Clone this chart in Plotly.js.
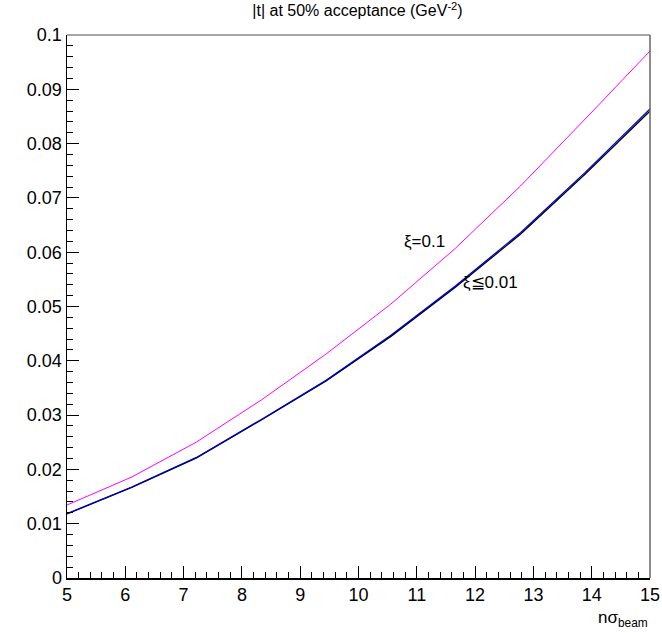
<!DOCTYPE html>
<html>
<head>
<meta charset="utf-8">
<script src="https://cdn.plot.ly/plotly-3.0.1.min.js"></script>
<style>html,body{margin:0;padding:0;background:#fff;}#chart{width:662px;height:633px;}</style>
</head>
<body>
<div id="chart"></div>
<script>
const nsigma = [5, 6.111, 7.222, 8.333, 9.444, 10.556, 11.667, 12.778, 13.889, 15];
const tXi01 = [0.01344, 0.0186, 0.02505, 0.03278, 0.04125, 0.05046, 0.06077, 0.07219, 0.08453, 0.09705];
const tXi001Blue = [0.01184, 0.01676, 0.0222, 0.0292, 0.0364, 0.0447, 0.0538, 0.0636, 0.0747, 0.0864];
const tXi001Black = [0.01180, 0.01670, 0.02212, 0.0291, 0.0363, 0.0445, 0.0536, 0.0633, 0.0744, 0.0860];
const xTickVals = [5, 6, 7, 8, 9, 10, 11, 12, 13, 14, 15];
const yTickVals = [0, 0.01, 0.02, 0.03, 0.04, 0.05, 0.06, 0.07, 0.08, 0.09, 0.1];

const font = "Liberation Sans, Arial, sans-serif";

const traces = [
  {x: nsigma, y: tXi001Black, mode: 'lines', line: {color: '#000000', width: 1.3}, hoverinfo: 'skip'},
  {x: nsigma, y: tXi001Blue, mode: 'lines', line: {color: '#0000cc', width: 1.3}, hoverinfo: 'skip'},
  {x: nsigma, y: tXi01, mode: 'lines', line: {color: '#ff00ff', width: 1}, hoverinfo: 'skip'}
];

const layout = {
  width: 662, height: 633,
  margin: {l: 67, r: 12, t: 35, b: 55},
  paper_bgcolor: '#fff', plot_bgcolor: '#fff',
  showlegend: false,
  font: {family: font, color: '#000'},
  title: {text: '|t| at 50% acceptance (GeV<sup>-2</sup>)', font: {size: 16, family: font}, x: 0.54, xanchor: 'center', y: 0.992, yanchor: 'top'},
  xaxis: {
    range: [5, 15], tickvals: xTickVals, ticktext: xTickVals.map(String),
    ticks: 'inside', ticklen: 12, tickcolor: '#000', tickwidth: 1,
    minor: {dtick: 0.2, ticks: 'inside', ticklen: 6, tickcolor: '#000', showgrid: false},
    showline: true, linecolor: '#000', linewidth: 1.5,
    showgrid: false, zeroline: false,
    tickfont: {size: 18, family: font}
  },
  yaxis: {
    range: [0, 0.1], tickvals: yTickVals, ticktext: yTickVals.map(v => String(v)),
    ticks: 'inside', ticklen: 12, tickcolor: '#000', tickwidth: 1,
    minor: {dtick: 0.002, ticks: 'inside', ticklen: 6, tickcolor: '#000', showgrid: false},
    showline: true, linecolor: '#000', linewidth: 1.5,
    showgrid: false, zeroline: false,
    tickfont: {size: 18, family: font}
  },
  shapes: [
    {type: 'line', xref: 'paper', yref: 'paper', x0: 0, x1: 1, y0: 1, y1: 1, line: {color: '#888', width: 1.5}},
    {type: 'line', xref: 'paper', yref: 'paper', x0: 1, x1: 1, y0: 0, y1: 1, line: {color: '#666', width: 1.5}}
  ],
  annotations: [
    {x: 11.14, y: 0.0619, xref: 'x', yref: 'y', text: 'ξ=0.1', showarrow: false, font: {size: 17, family: font}},
    {x: 12.26, y: 0.0545, xref: 'x', yref: 'y', text: 'ξ≦0.01', showarrow: false, font: {size: 17, family: font}},
    {x: 1, y: 0, xref: 'paper', yref: 'paper', xanchor: 'right', yanchor: 'top', yshift: -28, text: 'nσ<sub>beam</sub>', showarrow: false, font: {size: 17, family: font}}
  ]
};

Plotly.newPlot('chart', traces, layout, {displayModeBar: false, staticPlot: true});
</script>
</body>
</html>
